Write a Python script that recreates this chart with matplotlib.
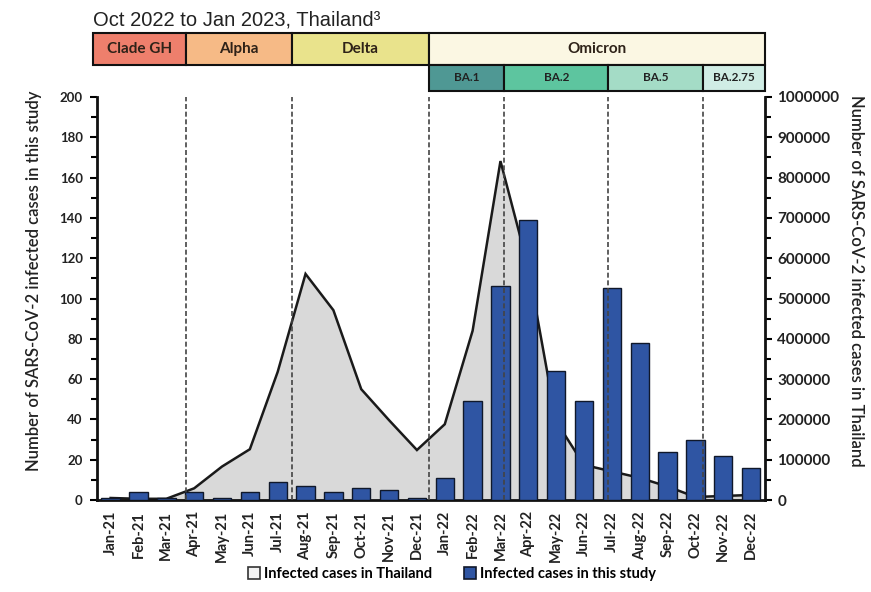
import matplotlib
matplotlib.use("Agg")
import matplotlib.pyplot as plt
from matplotlib.patches import Rectangle, Patch
from matplotlib.ticker import FuncFormatter

months = ["Jan-21", "Feb-21", "Mar-21", "Apr-21", "May-21", "Jun-21", "Jul-21", "Aug-21",
          "Sep-21", "Oct-21", "Nov-21", "Dec-21", "Jan-22", "Feb-22", "Mar-22", "Apr-22",
          "May-22", "Jun-22", "Jul-22", "Aug-22", "Sep-22", "Oct-22", "Nov-22", "Dec-22"]

# SARS-CoV-2 cases sequenced in this study (left axis)
study_cases = [1, 4, 1, 4, 1, 4, 9, 7, 4, 6, 5, 1, 11, 49, 106, 139, 64, 49, 105, 78, 24, 30, 22, 16]

# Nationwide infected cases in Thailand (right axis)
thailand_cases = [5000, 3000, 3000, 29000, 83000, 126000, 318000, 561000, 471000, 275000, 198000, 124000,
                  188000, 420000, 841000, 577000, 195000, 87000, 71000, 55000, 33500, 7500, 10000, 12500]

# Variant periods (boundaries in month-index units)
variants = ["Clade GH", "Alpha", "Delta", "Omicron"]
variant_edges = [-0.62, 2.71, 6.52, 11.44, 23.5]
variant_colors = ["#EE7F6C", "#F6BA86", "#E9E38C", "#FBF7E3"]

sublineages = ["BA.1", "BA.2", "BA.5", "BA.2.75"]
sub_edges = [11.44, 14.14, 17.87, 21.28, 23.5]
sub_colors = ["#4F9894", "#5DC59F", "#A4DCC6", "#D0EDE5"]

period_lines = [2.71, 6.52, 11.44, 14.14, 17.87, 21.28]

FONT = "Lato"
W, H = 871, 592
fig = plt.figure(figsize=(W / 100, H / 100), dpi=100)

ax_l, ax_r, ax_b, ax_t = 96.7, 765, 500, 97
ax = fig.add_axes([ax_l / W, 1 - ax_b / H, (ax_r - ax_l) / W, (ax_b - ax_t) / H])
ax2 = ax.twinx()

x = list(range(len(months)))

# Thailand area (behind)
ax2.fill_between(x, thailand_cases, 0, color="#D9D9D9", lw=0, zorder=1)
ax2.plot(x, thailand_cases, color="#1a1a1a", lw=1.8, zorder=2, solid_joinstyle="miter")
ax2.set_ylim(0, 1000000)
ax2.set_yticks(range(0, 1000001, 100000))
ax2.set_yticks(range(50000, 1000000, 100000), minor=True)
ax2.yaxis.set_major_formatter(FuncFormatter(lambda v, p: f"{int(round(v))}"))

# Study bars in front
ax.set_zorder(ax2.get_zorder() + 1)
ax.patch.set_visible(False)
ax.bar(x, study_cases, width=0.66, color="#2F55A3", edgecolor="#10182a", lw=1.0, zorder=3)
for xv in period_lines:
    ax.axvline(xv, color="#444444", lw=1.2, ls=(0, (3, 1.6)), zorder=4)

ax.set_xlim(-0.5, len(months) - 0.5)
ax.set_ylim(0, 200)
ax.set_yticks(range(0, 201, 20))
ax.set_yticks(range(10, 200, 20), minor=True)
ax.set_xticks(x)
ax.set_xticklabels(months, rotation=90, fontfamily=FONT, fontweight="bold", fontsize=10.5, color="#222222")
ax.tick_params(axis="x", length=0, pad=8)
ax.tick_params(axis="y", which="major", length=5, width=1.5, direction="out", pad=5)
ax.tick_params(axis="y", which="minor", length=4, width=1.5, direction="out")
ax2.tick_params(axis="y", which="major", length=5, width=1.5, direction="out", pad=4)
ax2.tick_params(axis="y", which="minor", length=4, width=1.5, direction="out")
for lab in ax.get_yticklabels():
    lab.set_fontfamily(FONT); lab.set_fontweight("bold"); lab.set_fontsize(9.5); lab.set_color("#222222")
for lab in ax2.get_yticklabels():
    lab.set_fontfamily(FONT); lab.set_fontweight("bold"); lab.set_fontsize(11); lab.set_color("#222222")

for a in (ax, ax2):
    a.spines["top"].set_visible(False)
    for s in ("left", "right", "bottom"):
        a.spines[s].set_linewidth(2.0)
        a.spines[s].set_color("#111111")
ax.spines["right"].set_visible(False)
ax2.spines["left"].set_visible(False)
ax2.spines["bottom"].set_visible(False)

ax.set_ylabel("Number of SARS-CoV-2 infected cases in this study", fontfamily=FONT,
              fontweight="semibold", fontsize=12, color="#222222")
ax.yaxis.set_label_coords(-0.082, 0.543)
ax2.set_ylabel("Number of SARS-CoV-2 infected cases in Thailand", fontfamily=FONT,
               fontweight="semibold", fontsize=12, color="#222222", rotation=270, va="center")
ax2.yaxis.set_label_coords(1.136, 0.543)

# Variant banner
bn = fig.add_axes([ax_l / W, 1 - 91 / H, (ax_r - ax_l) / W, (91 - 33) / H])
bn.set_xlim(-0.5, len(months) - 0.5)
bn.set_ylim(0, 2)
bn.axis("off")
for i, name in enumerate(variants):
    x0, x1 = variant_edges[i], variant_edges[i + 1]
    bn.add_patch(Rectangle((x0, 0.9), x1 - x0, 1.1, facecolor=variant_colors[i], edgecolor="#111111",
                           lw=1.5, clip_on=False))
    bn.text((x0 + x1) / 2, 1.45, name, ha="center", va="center", fontfamily=FONT, fontweight="bold",
            fontsize=11, color="#2e2218")
for i, name in enumerate(sublineages):
    x0, x1 = sub_edges[i], sub_edges[i + 1]
    bn.add_patch(Rectangle((x0, 0), x1 - x0, 0.9, facecolor=sub_colors[i], edgecolor="#111111",
                           lw=1.5, clip_on=False))
    bn.text((x0 + x1) / 2, 0.45, name, ha="center", va="center", fontfamily=FONT, fontweight="bold",
            fontsize=8.5, color="#222222")

fig.text(93 / W, 1 - 20 / H, "Oct 2022 to Jan 2023, Thailand\u00b3", fontfamily="Liberation Sans",
         fontsize=14.5, ha="left", va="center", color="#222222")

handles = [Patch(facecolor="#F2F2F2", edgecolor="#333333", lw=1.2, label="Infected cases in Thailand"),
           Patch(facecolor="#2F55A3", edgecolor="#10182a", lw=1.2, label="Infected cases in this study")]
fig.legend(handles=handles, loc="center", bbox_to_anchor=(452 / W, 1 - 574 / H), ncol=2, frameon=False,
           handlelength=0.8, handleheight=0.8, handletextpad=0.3, columnspacing=2.2,
           prop={"family": FONT, "weight": "bold", "size": 10.5})

fig.savefig("out.png", dpi=100)
